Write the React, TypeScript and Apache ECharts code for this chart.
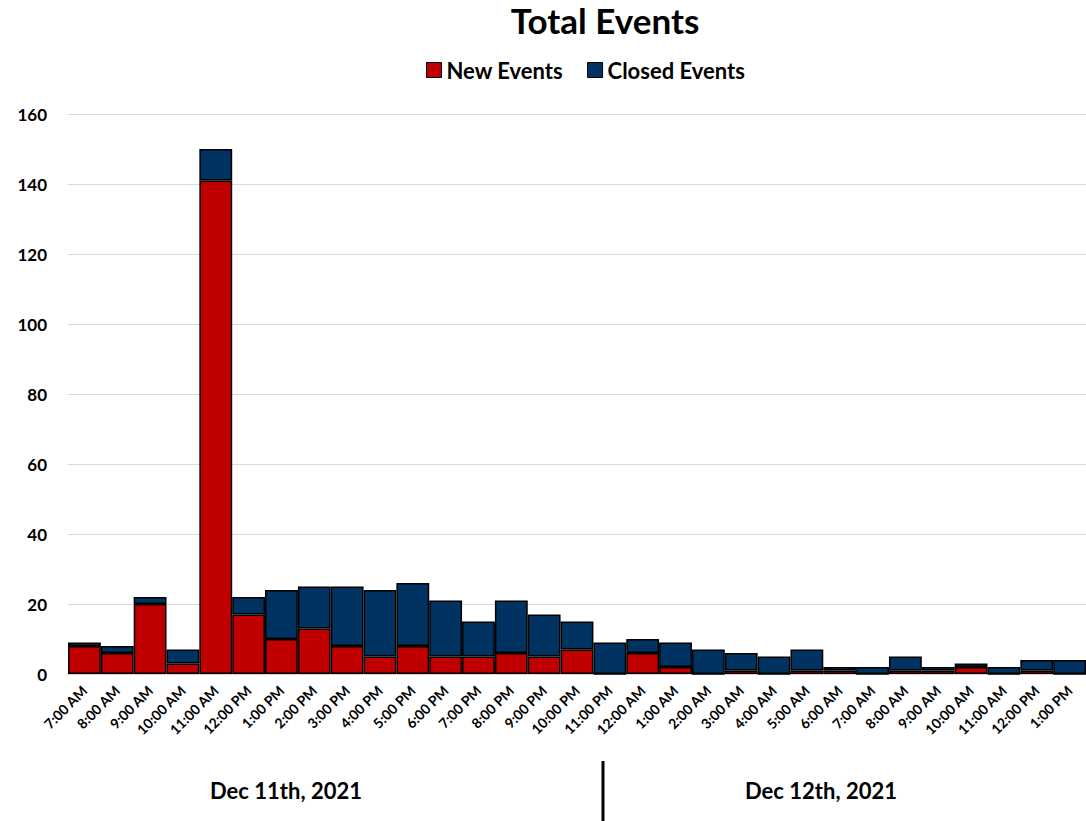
import React, { useEffect, useRef } from "react";
import * as echarts from "echarts";

const categories = [
  "7:00 AM", "8:00 AM", "9:00 AM", "10:00 AM", "11:00 AM", "12:00 PM", "1:00 PM", "2:00 PM",
  "3:00 PM", "4:00 PM", "5:00 PM", "6:00 PM", "7:00 PM", "8:00 PM", "9:00 PM", "10:00 PM",
  "11:00 PM", "12:00 AM", "1:00 AM", "2:00 AM", "3:00 AM", "4:00 AM", "5:00 AM", "6:00 AM",
  "7:00 AM", "8:00 AM", "9:00 AM", "10:00 AM", "11:00 AM", "12:00 PM", "1:00 PM",
];
const newEvents = [8, 6, 20, 3, 141, 17, 10, 13, 8, 5, 8, 5, 5, 6, 5, 7, 0, 6, 2, 0, 1, 0, 1, 1, 0, 1, 1, 2, 0, 1, 0];
const closedEvents = [1, 2, 2, 4, 9, 5, 14, 12, 17, 19, 18, 16, 10, 15, 12, 8, 9, 4, 7, 7, 5, 5, 6, 1, 2, 4, 1, 1, 2, 3, 4];
const dayLabels = ["Dec 11th, 2021", "Dec 12th, 2021"];

const FONT = "Lato, 'Open Sans', sans-serif";

export default function App() {
  const ref = useRef<HTMLDivElement>(null);
  useEffect(() => {
    if (!ref.current) return;
    const chart = echarts.init(ref.current, undefined, { renderer: "svg" });
    chart.setOption({
      animation: false,
      backgroundColor: "#fff",
      title: {
        text: "Total Events",
        left: 600,
        textAlign: "center",
        top: -3,
        textStyle: { fontFamily: FONT, fontWeight: "bold", fontSize: 35, color: "#000" },
      },
      legend: {
        left: 421,
        top: 54,
        icon: "rect",
        itemWidth: 15,
        itemHeight: 15,
        itemGap: 24,
        textStyle: { fontFamily: FONT, fontWeight: "bold", fontSize: 22, color: "#000" },
        data: [
          { name: "New Events", itemStyle: { borderColor: "#000", borderWidth: 1 } },
          { name: "Closed Events", itemStyle: { borderColor: "#000", borderWidth: 1 } },
        ],
      },
      grid: { left: 68, right: 0, top: 114, bottom: 147, containLabel: false },
      xAxis: {
        type: "category",
        data: categories,
        axisTick: { show: false },
        axisLine: { lineStyle: { color: "#d9d9d9", width: 1 } },
        axisLabel: {
          interval: 0,
          rotate: 45,
          margin: 14,
          fontFamily: FONT,
          fontWeight: "bold",
          fontSize: 14,
          color: "#000",
        },
      },
      yAxis: {
        type: "value",
        min: 0,
        max: 160,
        interval: 20,
        axisLine: { show: false },
        axisTick: { show: false },
        splitLine: { lineStyle: { color: "#d9d9d9", width: 1 } },
        axisLabel: { fontFamily: FONT, fontWeight: "bold", fontSize: 17, color: "#000", margin: 21 },
      },
      series: [
        {
          name: "New Events",
          type: "bar",
          stack: "total",
          barCategoryGap: "0%",
          data: newEvents,
          itemStyle: { color: "#C00000", borderColor: "#000", borderWidth: 1.5 },
        },
        {
          name: "Closed Events",
          type: "bar",
          stack: "total",
          barCategoryGap: "0%",
          data: closedEvents,
          itemStyle: { color: "#003361", borderColor: "#000", borderWidth: 1.5 },
        },
      ],
      graphic: [
        {
          type: "text",
          left: 295 - 85,
          top: 779,
          style: { text: dayLabels[0], fontFamily: FONT, fontWeight: "bold", fontSize: 22, fill: "#000" },
        },
        {
          type: "text",
          left: 830 - 85,
          top: 779,
          style: { text: dayLabels[1], fontFamily: FONT, fontWeight: "bold", fontSize: 22, fill: "#000" },
        },
        {
          type: "rect",
          shape: { x: 601.5, y: 761, width: 3, height: 60 },
          style: { fill: "#000" },
        },
      ],
    });
    return () => chart.dispose();
  }, []);
  return <div ref={ref} style={{ width: 1086, height: 821, position: "absolute", left: 0, top: 0 }} />;
}
